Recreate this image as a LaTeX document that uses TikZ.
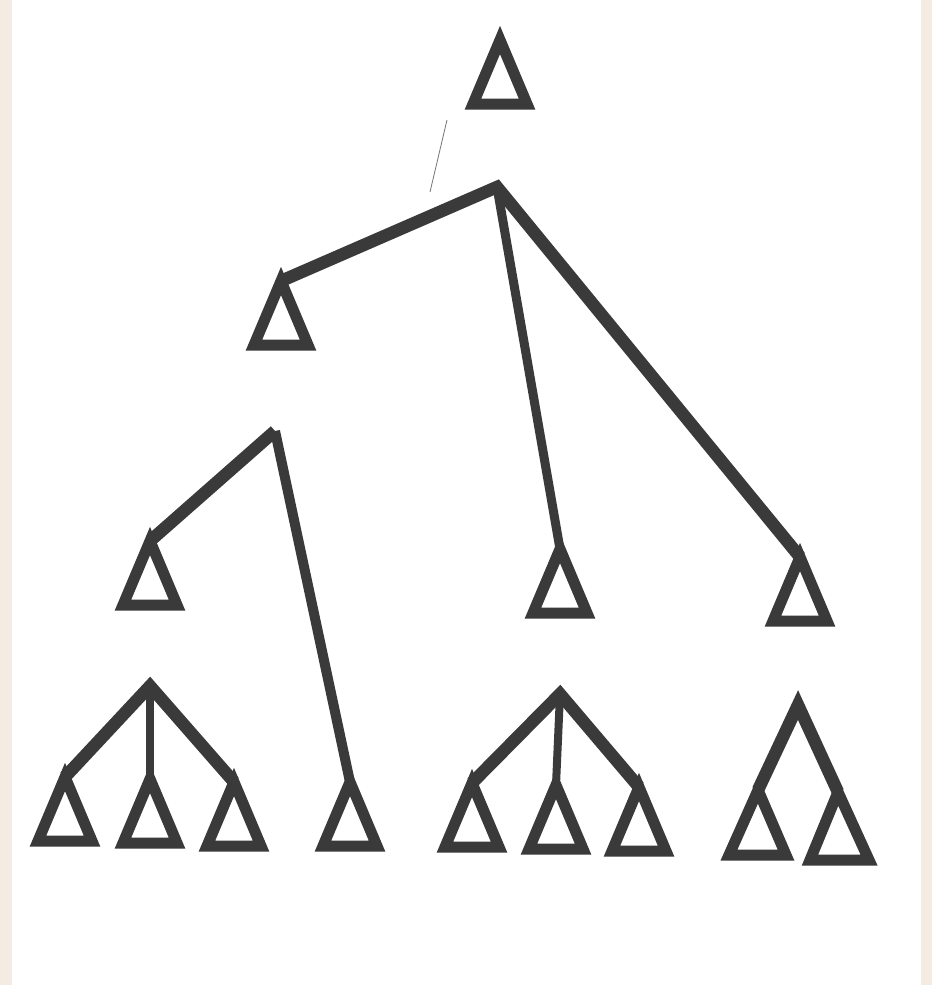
\documentclass[tikz,border=0pt]{standalone}
\definecolor{ink}{HTML}{3A3A3A}
\definecolor{edgetone}{HTML}{F4ECE3}
\tikzset{
  tri/.style={draw=ink, line width=11pt, line join=miter},
  branch/.style={draw=ink, line width=12.5pt, line join=miter},
  stem/.style={draw=ink, line width=9pt},
  stray/.style={draw=ink!70, line width=0.8pt}
}
\newcommand\mytri[3]{%
  \coordinate (#1) at (#2,#3);
  \draw[tri] (#1) -- ++(-27,64) -- ++(54,0) -- cycle;}
\begin{document}
\begin{tikzpicture}[x=1pt,y=-1pt]
\fill[white] (0,0) rectangle (932,985);
\useasboundingbox (0,0) rectangle (932,985);
\fill[edgetone] (0,0) rectangle (12,985);
\fill[edgetone] (921,0) rectangle (932,985);
% stray scanner line
\coordinate (s1) at (447,120);
\coordinate (s2) at (430,192);
\draw[stray] (s1) -- (s2);
% top triangle
\mytri{t0}{500}{40}
% tree 1
\coordinate (r1) at (497,187);
\mytri{t11}{281}{281}
\mytri{t12}{560}{549}
\mytri{t13}{800}{557}
\draw[branch] (t11) -- (r1) -- (t13);
\draw[stem] (r1) -- (t12);
% tree 2
\coordinate (r2) at (275,431);
\mytri{t21}{150}{541}
\mytri{t22}{350}{782}
\draw[branch] (t21) -- (r2);
\draw[stem, line width=10pt] (r2) -- (t22);
% tree 3
\coordinate (r3) at (150,686);
\mytri{t31}{65}{777}
\mytri{t32}{150}{779}
\mytri{t33}{234}{782}
\draw[branch] (t31) -- (r3) -- (t33);
\draw[stem, line width=8pt] (r3) -- (t32);
% tree 4
\coordinate (r4) at (560,694);
\mytri{t41}{472}{783}
\mytri{t42}{556}{785}
\mytri{t43}{639}{787}
\draw[branch] (t41) -- (r4) -- (t43);
\draw[stem, line width=8pt] (r4) -- (t42);
% tree 5
\coordinate (r5) at (798,705);
\coordinate (t51) at (758,790);
\coordinate (t52) at (838,792);
\draw[branch] (t51) -- (r5) -- (t52);
\draw[tri] (t51) -- (786,855) -- (729,855) -- cycle;
\draw[tri] (t52) -- (869,860) -- (810,860) -- cycle;
\end{tikzpicture}
\end{document}
